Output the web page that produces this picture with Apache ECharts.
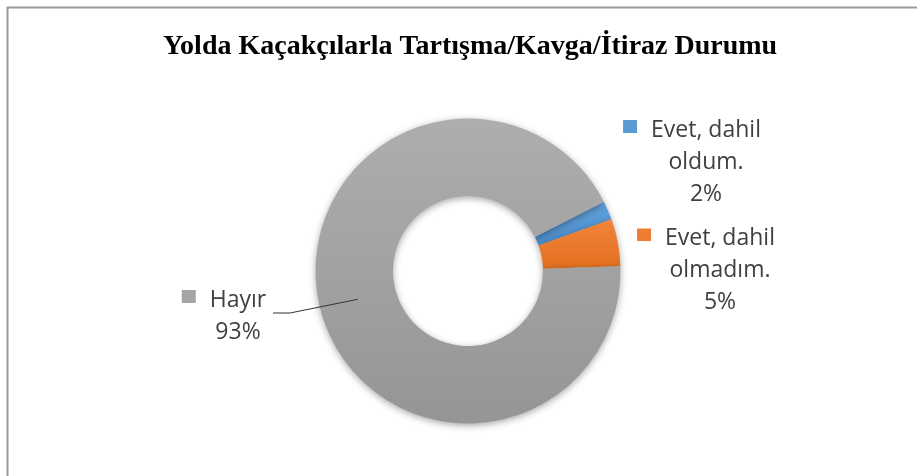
<!DOCTYPE html>
<html>
<head>
<meta charset="utf-8">
<script src="https://cdn.jsdelivr.net/npm/echarts@6/dist/echarts.min.js"></script>
<style>
  html, body { margin: 0; padding: 0; background: #fff; }
  #chart { width: 917px; height: 476px; }
</style>
</head>
<body>
<div id="chart"></div>
<script>
// chart data
const categories = ['Evet, dahil oldum.', 'Evet, dahil olmadım.', 'Hayır'];
const labelLines = [['Evet, dahil', 'oldum.'], ['Evet, dahil', 'olmadım.'], ['Hayır']];
const values = [2, 5, 93];
const colors = ['#5B9BD5', '#ED7D31', '#A5A5A5'];
const titleText = 'Yolda Kaçakçılarla Tartışma/Kavga/İtiraz Durumu';

const drawChart = () => {
    var myChart = echarts.init(document.getElementById('chart'));

    var cx = 468, cy = 271;
    var rIn = 75, rOut = 152.5;
    var startAngle = 27;

    // where each label block sits (center of the text block)
    var labelPos = [[706, 162], [720, 270.5], [238, 316]];

    const shade = (top, bottom) => new echarts.graphic.LinearGradient(0, 0, 0, 1, [
        { offset: 0, color: top },
        { offset: 1, color: bottom }
    ]);
    var fills = [
        shade('#62A2DC', '#4C8BC9'),
        shade('#F2843A', '#E2701F'),
        shade('#AEAEAE', '#959595')
    ];

    // legend key square, sitting a little above the text middle
    const keyBox = (c) => ({
        width: 14,
        height: 20,
        backgroundColor: new echarts.graphic.LinearGradient(0, 0, 0, 1, [
            { offset: 0, color: c },
            { offset: 0.65, color: c },
            { offset: 0.65, color: 'rgba(255,255,255,0)' },
            { offset: 1, color: 'rgba(255,255,255,0)' }
        ])
    });

    var total = values.reduce((s, v) => s + v, 0);

    // angle (deg) of the middle of slice i
    const midAngle = (i) => {
        var before = values.slice(0, i).reduce((s, v) => s + v, 0);
        return startAngle - 360 * (before + values[i] / 2) / total;
    };

    // leader line for the big slice: from the middle of the ring to the label
    const leader = (i) => {
        var a = midAngle(i) * Math.PI / 180;
        var r = (rIn + rOut) / 2;
        var p0 = [cx + r * Math.cos(a), cy - r * Math.sin(a)];
        var p2 = [labelPos[i][0] + 35, labelPos[i][1] - 3];
        var p1 = [p2[0] + 17, p2[1]];
        return [p0, p1, p2];
    };

    var data = categories.map((name, i) => ({
        name: name,
        value: values[i],
        itemStyle: { color: fills[i] }
    }));

    var option = {
        backgroundColor: '#fff',
        animation: false,
        title: {
            text: titleText,
            left: 158,
            top: 28,
            textStyle: {
                fontFamily: 'Liberation Serif',
                fontWeight: 'bold',
                fontSize: 28,
                color: '#000'
            }
        },
        graphic: [{
            type: 'rect',
            silent: true,
            shape: { x: 7.5, y: 7.5, width: 940, height: 500 },
            style: { fill: 'none', stroke: '#9a9a9a', lineWidth: 2 }
        }, {
            type: 'polyline',
            silent: true,
            z: 100,
            shape: { points: leader(2) },
            style: { fill: 'none', stroke: '#333333', lineWidth: 1 }
        }],
        series: [{
            type: 'pie',
            center: [cx, cy],
            radius: [rIn, rOut],
            startAngle: startAngle,
            clockwise: true,
            avoidLabelOverlap: false,
            itemStyle: {
                borderWidth: 0,
                shadowBlur: 7,
                shadowOffsetY: 2,
                shadowColor: 'rgba(0,0,0,0.35)'
            },
            emphasis: { disabled: true },
            label: {
                show: true,
                position: 'outside',
                color: '#404040',
                fontFamily: 'Open Sans',
                fontSize: 23,
                lineHeight: 32,
                align: 'center',
                formatter: (p) => {
                    var lines = labelLines[p.dataIndex].slice();
                    lines[0] = '{k' + p.dataIndex + '|}{g|}' + lines[0] + '{g|}{e|}';
                    lines.push(Math.round(p.percent) + '%');
                    return lines.join('\n');
                },
                rich: {
                    k0: keyBox(colors[0]),
                    k1: keyBox(colors[1]),
                    k2: keyBox(colors[2]),
                    g: { width: 14 },
                    e: { width: 14 }
                }
            },
            labelLine: { show: false },
            labelLayout: (params) => {
                var i = params.dataIndex;
                return {
                    x: labelPos[i][0],
                    y: labelPos[i][1],
                    align: 'center',
                    verticalAlign: 'middle'
                };
            },
            data: data
        }]
    };

    option && myChart.setOption(option);
};

drawChart();
</script>
</body>
</html>
